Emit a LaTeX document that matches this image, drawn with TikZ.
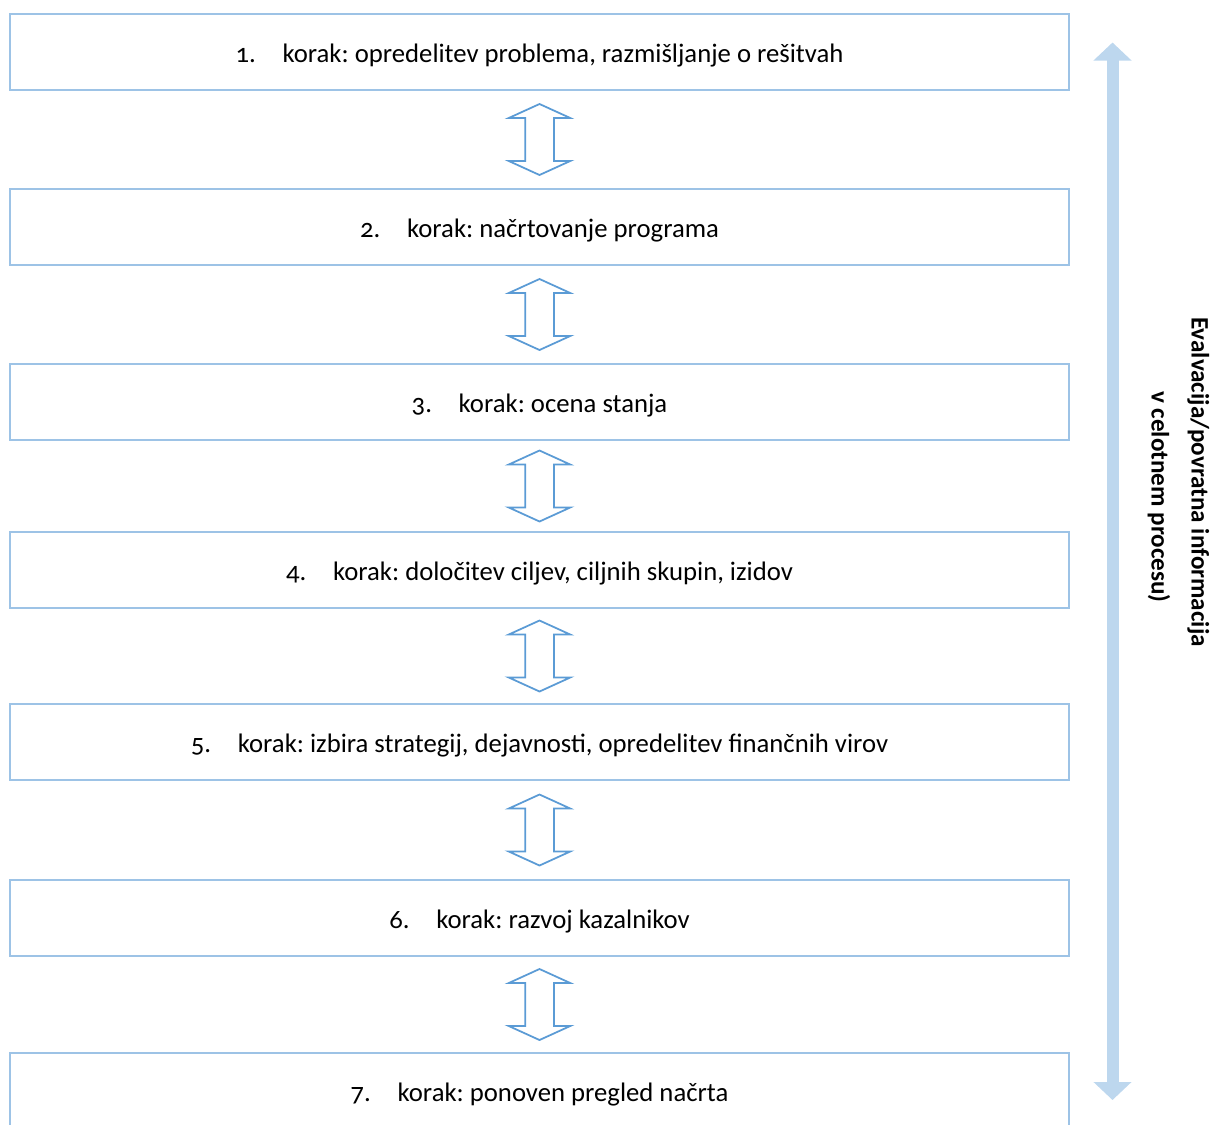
\documentclass[tikz,border=0pt]{standalone}
\usepackage{fontspec}
\setmainfont{Carlito}[Numbers=OldStyle]
\usepackage{tikz}
\usetikzlibrary{positioning, arrows.meta, shapes.arrows, calc}

\definecolor{boxline}{HTML}{9DC3E6}
\definecolor{arrline}{HTML}{5B9BD5}
\definecolor{evalfill}{HTML}{BDD7EE}

\newcommand{\korak}[2]{\makebox[0.94cm][l]{#1}korak: #2}

\begin{document}
\frenchspacing
\begin{tikzpicture}[
    stepbox/.style={draw=boxline, line width=1.2pt, rectangle, minimum width=21.18cm, minimum height=1.52cm, inner sep=0pt, outer sep=0pt, text height=0.5cm, text depth=0.1cm, font=\fontsize{15.2}{18}\selectfont},
    linkarrow/.style={double arrow, draw=arrline, line width=1pt, rotate=90, minimum height=1.42cm, minimum width=1.2cm, double arrow head extend=0.33cm, double arrow tip angle=131, inner xsep=0pt, inner ysep=0.27cm, outer sep=0pt},
    evalarrow/.style={{Triangle[width=0.74cm, length=0.36cm]}-{Triangle[width=0.74cm, length=0.36cm]}, line width=0.24cm, draw=evalfill},
]

% page size
\useasboundingbox (0,0) rectangle (24.26,-22.48);

% Steps
\node[stepbox] (s1) at (10.79,-1.04) {\korak{1.}{opredelitev problema, razmišljanje o rešitvah}};
\node[stepbox, below=1.98cm of s1] (s2) {\korak{2.}{načrtovanje programa}};
\node[stepbox, below=1.98cm of s2] (s3) {\korak{3.}{ocena stanja}};
\node[stepbox, below=1.84cm of s3] (s4) {\korak{4.}{določitev ciljev, ciljnih skupin, izidov}};
\node[stepbox, below=1.92cm of s4] (s5) {\korak{5.}{izbira strategij, dejavnosti, opredelitev finančnih virov}};
\node[stepbox, below=2.0cm of s5] (s6) {\korak{6.}{razvoj kazalnikov}};
\node[stepbox, below=1.94cm of s6] (s7) {\korak{7.}{ponoven pregled načrta}};

% Double arrows between steps
\node[linkarrow] (a12) at ($(s1.south)!0.5!(s2.north)$) {};
\node[linkarrow] (a23) at ($(s2.south)!0.5!(s3.north)$) {};
\node[linkarrow] (a34) at ($(s3.south)!0.5!(s4.north)$) {};
\node[linkarrow] (a45) at ($(s4.south)!0.5!(s5.north)$) {};
\node[linkarrow] (a56) at ($(s5.south)!0.5!(s6.north)$) {};
\node[linkarrow] (a67) at ($(s6.south)!0.5!(s7.north)$) {};

% Evaluation over the whole process
\coordinate (evtop) at (22.25,-0.85);
\coordinate (evbot) at (22.25,-22.0);
\draw[evalarrow] (evtop) -- (evbot);
\node[rotate=-90, align=center, font=\bfseries\fontsize{14.3}{22.7}\selectfont] (evlabel) at (23.57,-9.64) {Evalvacija/povratna informacija\\\hspace*{0.6cm}v celotnem procesu)};

\end{tikzpicture}
\end{document}
